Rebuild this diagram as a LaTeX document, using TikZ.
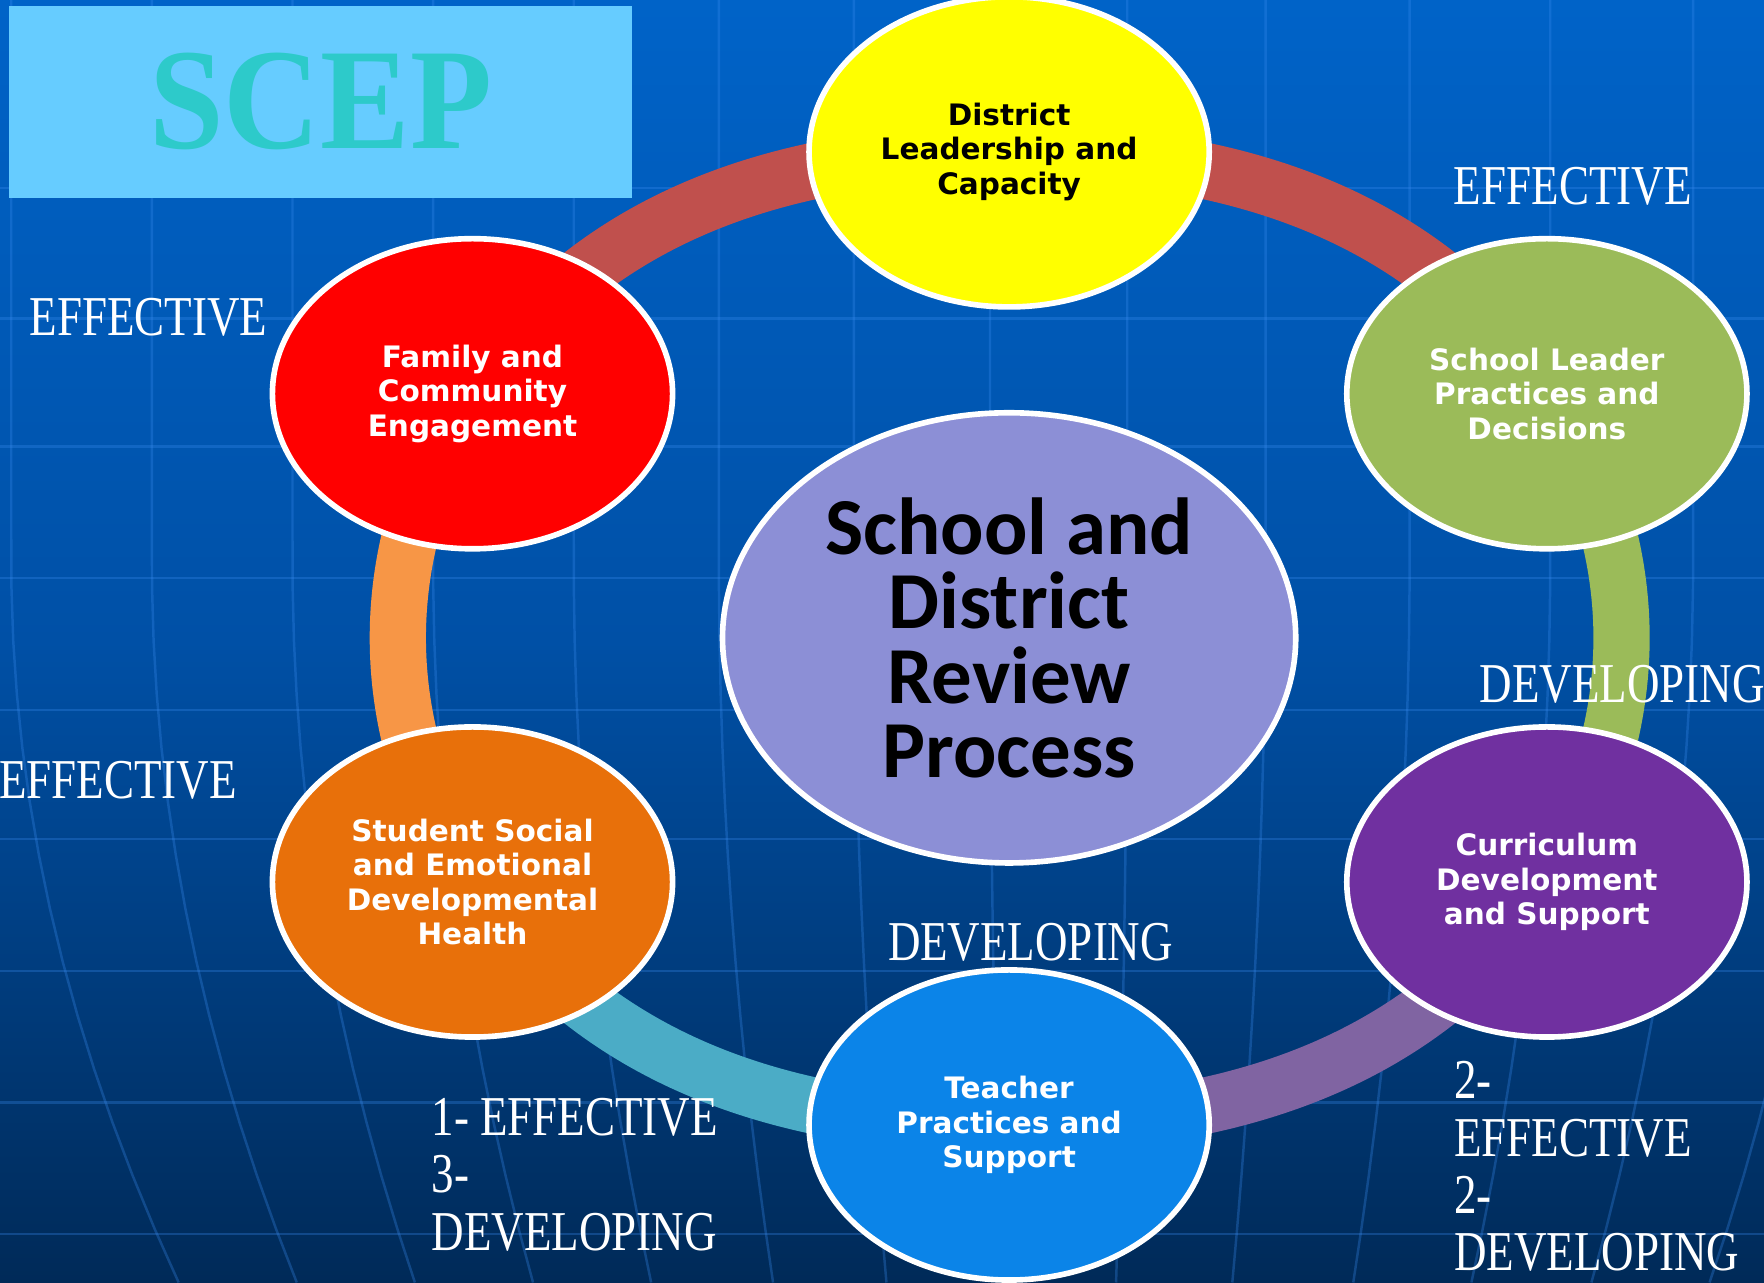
\documentclass[tikz,border=0pt]{standalone}
\usepackage{fontspec}
\newfontfamily\nodefont{DejaVu Sans}
\newfontfamily\hubfont{Carlito}
\newfontfamily\lblfont[FakeStretch=0.8]{Liberation Serif}
\newfontfamily\titlefont[FakeStretch=0.93]{Liberation Serif}
\usetikzlibrary{shapes.geometric}
\pgfdeclarelayer{bg}
\pgfdeclarelayer{ring}
\pgfsetlayers{bg,ring,main}
\definecolor{bgtop}{HTML}{0063C8}
\definecolor{bgmid}{HTML}{0050A6}
\definecolor{bgbot}{HTML}{002A58}
\definecolor{gridblue}{HTML}{3A8CF0}
\definecolor{titlebg}{HTML}{66CCFF}
\definecolor{scepteal}{HTML}{2DCACA}
\definecolor{cyellow}{HTML}{FFFF00}
\definecolor{cred}{HTML}{FF0000}
\definecolor{cgreen}{HTML}{9BBB59}
\definecolor{corange}{HTML}{E8700A}
\definecolor{cpurple}{HTML}{7030A0}
\definecolor{cblue}{HTML}{0B84E8}
\definecolor{chub}{HTML}{8C8FD6}
\definecolor{bandred}{HTML}{C0504D}
\definecolor{bandgreen}{HTML}{9BBB59}
\definecolor{bandpurple}{HTML}{8064A2}
\definecolor{bandaqua}{HTML}{4BACC6}
\definecolor{bandorange}{HTML}{F79646}
\tikzstyle{circ} = [ellipse, draw=white, line width=1.6pt, minimum width=4cm, minimum height=3.1cm, inner sep=0pt, align=center, text=white, font=\nodefont\bfseries\fontsize{8.4}{9.8}\selectfont]
\tikzstyle{hub} = [circ, minimum width=5.73cm, minimum height=4.5cm, text=black, font=\hubfont\bfseries\fontsize{23}{21.2}\selectfont]
\tikzstyle{lbl} = [text=white, inner sep=0pt, font=\lblfont\fontsize{16}{16.3}\selectfont]
\tikzstyle{band} = [line width=16pt, looseness=0.95]
\tikzstyle{gridline} = [draw=gridblue, line width=0.7pt, opacity=0.3]
\begin{document}
\begin{tikzpicture}[x=0.01125cm, y=0.01125cm]
	\useasboundingbox (0,0) rectangle (1568,-1140);
	% background with globe lines
	\begin{pgfonlayer}{bg}
	\shade [top color=bgtop, bottom color=bgbot, middle color=bgmid] (0,0) rectangle (1568,-1140);
	\foreach \y in {167,283,397,514,631,746,863,980,1097}
		\draw [gridline] (0,-\y) -- (1568,-\y);
	\foreach \x in {10,135,260,385,510,639,759,880,1002,1125,1253,1378,1505,1630}
		\draw [gridline] plot[variable=\t, domain=0:1140, samples=25] ({\x+(940-(\x))*0.16*max(0,(\t-500)/640)^2}, -\t);
	\end{pgfonlayer}
	\node (title) [rectangle, fill=titlebg, minimum width=6.23cm, minimum height=1.92cm, inner sep=0pt, text=scepteal, font=\titlefont\bfseries\fontsize{41}{41}\selectfont] at (285,-90.5) {SCEP};
	\node (dist) [circ, fill=cyellow, text=black] at (897,-135) {District\\Leadership and\\Capacity};
	\node (family) [circ, fill=cred] at (420,-350) {Family and\\Community\\Engagement};
	\node (leader) [circ, fill=cgreen] at (1375,-350) {School Leader\\Practices and\\Decisions};
	\node (student) [circ, fill=corange] at (420,-784) {Student Social\\and Emotional\\Developmental\\Health};
	\node (curric) [circ, fill=cpurple] at (1375,-784) {Curriculum\\Development\\and Support};
	\node (teacher) [circ, fill=cblue] at (897,-1000) {Teacher\\Practices and\\Support};
	\node (review) [hub, fill=chub] at (897,-567) {School and\\District\\Review\\Process};
	% ring behind the circles
	\begin{pgfonlayer}{ring}
	\draw [band, draw=bandred] (family.center) to[out=56.6, in=180] (dist.center);
	\draw [band, draw=bandred] (dist.center) to[out=0, in=123.4] (leader.center);
	\draw [band, draw=bandgreen] (leader.center) to[out=-56.6, in=56.6] (curric.center);
	\draw [band, draw=bandpurple] (curric.center) to[out=-123.4, in=0] (teacher.center);
	\draw [band, draw=bandaqua] (teacher.center) to[out=180, in=-56.6] (student.center);
	\draw [band, draw=bandorange] (student.center) to[out=123.4, in=-123.4] (family.center);
	\end{pgfonlayer}
	% ratings
	\node (effTR) [lbl] at (1398,-166) {EFFECTIVE};
	\node (effTL) [lbl] at (132,-282) {EFFECTIVE};
	\node (devR) [lbl] at (1442,-608) {DEVELOPING};
	\node (effL) [lbl] at (105,-694) {EFFECTIVE};
	\node (devB) [lbl] at (916,-838) {DEVELOPING};
	\node (scoreBL) [lbl, align=left, anchor=west] at (383,-1044) {1- EFFECTIVE\\3-\\DEVELOPING};
	\node (scoreBR) [lbl, align=left, anchor=west] at (1292,-1037) {2-\\EFFECTIVE\\2-\\DEVELOPING};
\end{tikzpicture}
\end{document}
